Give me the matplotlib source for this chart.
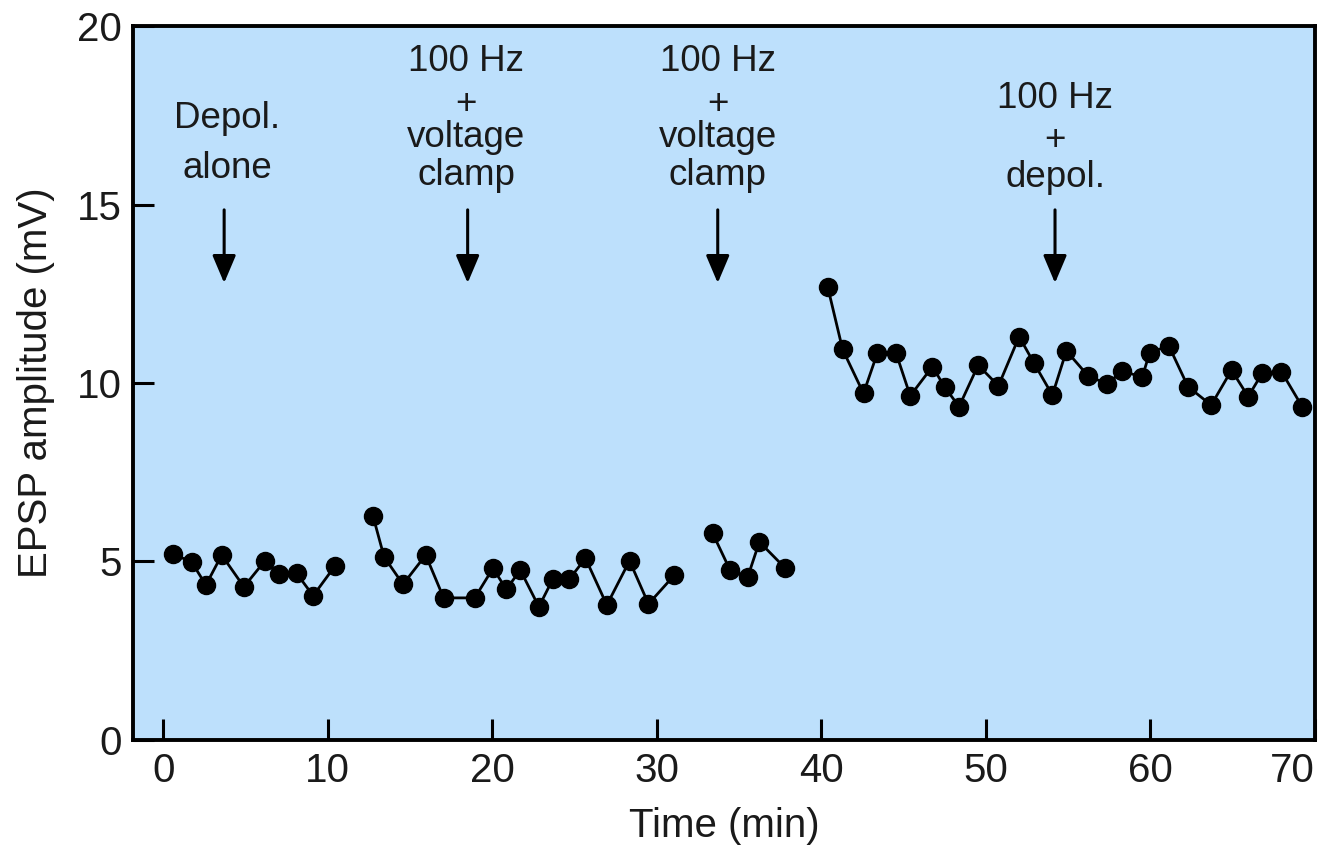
import matplotlib
matplotlib.use('Agg')
import matplotlib.pyplot as plt

plt.rcParams['font.family'] = ['Liberation Sans', 'DejaVu Sans']

# data: time (min) and EPSP amplitude (mV), four recording runs
t1 = [0.57, 1.72, 2.59, 3.55, 4.90, 6.18, 7.03, 8.10, 9.11, 10.43]
v1 = [5.21, 4.99, 4.34, 5.18, 4.29, 5.02, 4.65, 4.67, 4.04, 4.87]

t2 = [12.75, 13.42, 14.57, 15.95, 17.04, 18.93, 20.04, 20.85, 21.70, 22.83,
      23.68, 24.69, 25.66, 26.96, 28.34, 29.49, 31.07]
v2 = [6.27, 5.13, 4.36, 5.18, 3.98, 3.98, 4.81, 4.22, 4.76, 3.73,
      4.51, 4.51, 5.09, 3.78, 5.02, 3.81, 4.62]

t3 = [33.39, 34.45, 35.52, 36.23, 37.81]
v3 = [5.79, 4.76, 4.56, 5.55, 4.81]

t4 = [40.38, 41.29, 42.56, 43.41, 44.53, 45.40, 46.75, 47.50, 48.37, 49.53,
      50.76, 52.02, 52.93, 54.04, 54.89, 56.21, 57.38, 58.29, 59.50, 59.95,
      61.12, 62.28, 63.69, 64.93, 65.94, 66.79, 67.96, 69.22]
v4 = [12.70, 10.94, 9.71, 10.85, 10.85, 9.64, 10.46, 9.88, 9.34, 10.50,
      9.92, 11.30, 10.55, 9.66, 10.90, 10.20, 9.97, 10.34, 10.16, 10.85,
      11.04, 9.90, 9.38, 10.36, 9.62, 10.27, 10.32, 9.34]

# stimulus protocol labels (one line per entry) and arrow positions
label_x = [3.87, 3.87,
           18.41, 18.41, 18.41, 18.41,
           33.70, 33.70, 33.70, 33.70,
           54.20, 54.20, 54.20]
label_y = [17.14, 15.74,
           18.74, 17.54, 16.61, 15.55,
           18.74, 17.54, 16.61, 15.55,
           17.70, 16.53, 15.49]
label_txt = ['Depol.', 'alone',
             '100 Hz', '+', 'voltage', 'clamp',
             '100 Hz', '+', 'voltage', 'clamp',
             '100 Hz', '+', 'depol.']
arrow_x = [3.7, 18.5, 33.7, 54.2]
arrow_top = 14.85
arrow_tip = 12.80

fig = plt.figure(figsize=(13.3, 8.48), dpi=100)
ax = fig.add_axes([0.100, 0.1274, 0.8887, 0.8419])
ax.set_facecolor('#bde0fc')

for t, v in [(t1, v1), (t2, v2), (t3, v3), (t4, v4)]:
    ax.plot(t, v, color='black', lw=2.0, marker='o', markersize=13,
            markerfacecolor='black', markeredgecolor='black')

for x, y, s in zip(label_x, label_y, label_txt):
    ax.text(x, y, s, ha='center', va='baseline', fontsize=26.5, color='#1a1a1a')

for x in arrow_x:
    ax.annotate('', xy=(x, arrow_tip), xytext=(x, arrow_top),
                arrowprops=dict(arrowstyle='-|>,head_length=0.85,head_width=0.36',
                                color='black', lw=2.2, mutation_scale=20,
                                shrinkA=0, shrinkB=0))

ax.set_xlim(-1.84, 70.0)
ax.set_ylim(0, 20)
ax.set_xticks([0, 10, 20, 30, 40, 50, 60, 70])
ax.set_yticks([0, 5, 10, 15, 20])
ax.tick_params(direction='in', length=15, width=2.2, labelsize=29,
               colors='black', labelcolor='#1a1a1a')
ax.tick_params(axis='x', pad=9)
ax.tick_params(axis='y', pad=8)
ax.get_xticklabels()[-1].set_horizontalalignment('right')
for sp in ax.spines.values():
    sp.set_linewidth(2.8)
    sp.set_color('black')

ax.set_xlabel('Time (min)', fontsize=29, color='#1a1a1a', labelpad=12)
ax.set_ylabel('EPSP amplitude (mV)', fontsize=29, color='#1a1a1a', labelpad=16)

fig.savefig('out.png', dpi=100)
